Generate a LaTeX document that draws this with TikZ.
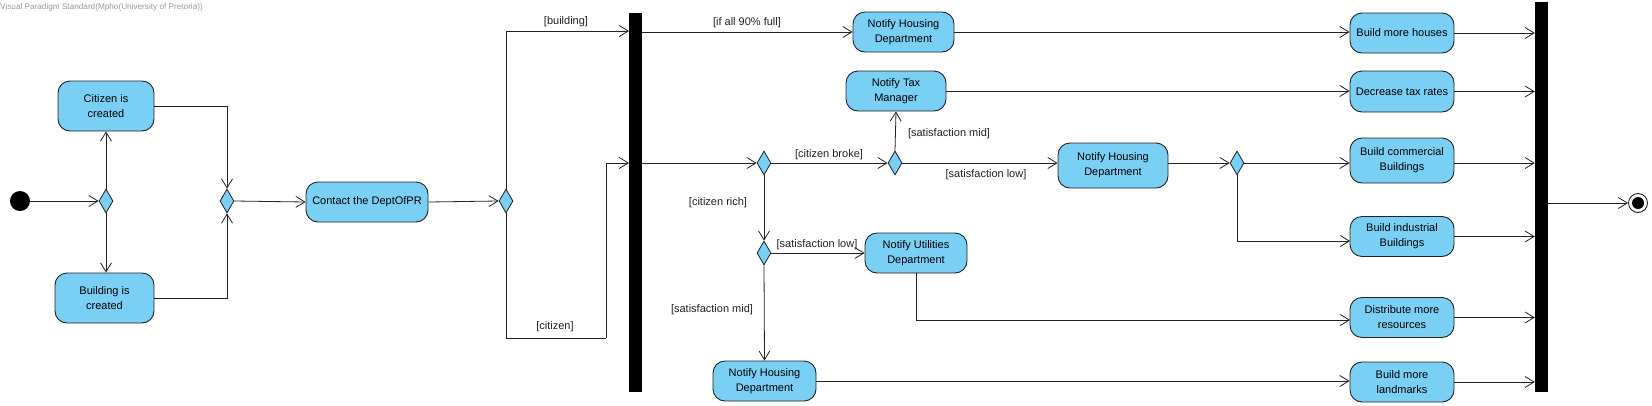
\documentclass[tikz,border=0pt]{standalone}
\usepackage{fontspec}
\setmainfont{Liberation Sans}
\usetikzlibrary{shapes.geometric,arrows.meta}
\definecolor{actblue}{HTML}{7ACFF5}
\definecolor{bord}{HTML}{222222}
\definecolor{titlegray}{HTML}{9A9A9A}
\tikzset{
  x=1pt,y=-1pt,
  act/.style={rectangle, rounded corners=12pt, draw=bord, fill=actblue, line width=0.9pt,
    align=center, inner sep=0pt, font=\fontsize{11}{15}\selectfont},
  dec/.style={diamond, draw=bord, fill=actblue, minimum width=14pt, minimum height=24pt,
    inner sep=0pt, line width=0.8pt},
  barnode/.style={rectangle, fill=black, draw=none, inner sep=0pt},
  arr/.style={-{Straight Barb[length=9pt,width=11pt,line width=0.8pt]}, line width=0.8pt, draw=bord},
  plain/.style={line width=0.8pt, draw=bord},
  guard/.style={inner sep=0pt, font=\fontsize{11}{13}\selectfont, text=bord}
}
\begin{document}
\begin{tikzpicture}
\useasboundingbox (0,0) rectangle (1652,405);
\fill[white] (0,0) rectangle (1652,405);
\node[anchor=west, inner sep=0pt, text=titlegray, font=\fontsize{8.2}{10}\selectfont] (title) at (0,7) {Visual Paradigm Standard(Mpho(University of Pretoria))};

% initial / final
\node[circle, fill=black, minimum size=20pt, inner sep=0pt] (init) at (20,201) {};
\node[circle, draw=bord, fill=white, line width=0.9pt, minimum size=19pt, inner sep=0pt] (final) at (1638,203) {};
\fill[black] (final.center) circle (6pt);

% decisions
\node[dec] (d1) at (106,201) {};
\node[dec] (merge) at (227,201) {};
\node[dec] (d3) at (506,201) {};
\node[dec] (d4) at (764,163) {};
\node[dec] (d5) at (764,253) {};
\node[dec] (d6) at (895,163) {};
\node[dec] (d7) at (1237,163) {};

% bars
\node[barnode, minimum width=13pt, minimum height=379pt] (bar1) at (635.5,202.5) {};
\node[barnode, minimum width=13pt, minimum height=390pt] (bar2) at (1541.5,197) {};

% actions
\node[act, minimum width=96pt, minimum height=50pt] (citizen) at (106,106) {Citizen is\\created};
\node[act, minimum width=99pt, minimum height=50pt] (building) at (104.5,298) {Building is\\created};
\node[act, minimum width=122pt, minimum height=40pt] (contact) at (367,202) {Contact the DeptOfPR};
\node[act, minimum width=101pt, minimum height=40pt] (nh1) at (903.5,32) {Notify Housing\\Department};
\node[act, minimum width=100pt, minimum height=40pt] (tax) at (896,91) {Notify Tax\\Manager};
\node[act, minimum width=110pt, minimum height=45pt] (nh2) at (1113,165.5) {Notify Housing\\Department};
\node[act, minimum width=102pt, minimum height=40pt] (utl) at (916,253) {Notify Utilities\\Department};
\node[act, minimum width=103pt, minimum height=40pt] (nh3) at (764.5,381) {Notify Housing\\Department};
\node[act, minimum width=104pt, minimum height=40pt] (bmh) at (1402,33) {Build more houses};
\node[act, minimum width=104pt, minimum height=41pt] (dtr) at (1402,91.5) {Decrease tax rates};
\node[act, minimum width=104pt, minimum height=45pt] (bcb) at (1402,160.5) {Build commercial\\Buildings};
\node[act, minimum width=104pt, minimum height=40pt] (bib) at (1402,236.5) {Build industrial\\Buildings};
\node[act, minimum width=104pt, minimum height=40pt] (dmr) at (1402,317.5) {Distribute more\\resources};
\node[act, minimum width=104pt, minimum height=40pt] (bml) at (1402,382) {Build more\\landmarks};

% helper coordinates
\coordinate (b1in1) at (629,31);
\coordinate (b1in2) at (629,163);
\coordinate (cturn) at (606,338);
\coordinate (bibin) at (1350,241);
\coordinate (dmrin) at (1350,320);
\coordinate (nh2out) at (1168,163);

% connectors
\draw[arr] (init) -- (d1.west);
\draw[arr] (d1.north) -- (d1.north |- citizen.south);
\draw[arr] (d1.south) -- (d1.south |- building.north);
\draw[arr] (citizen.east) -| (merge.north);
\draw[arr] (building.east) -| (merge.south);
\draw[arr] (merge.east) -- (contact.west);
\draw[arr] (contact.east) -- (d3.west);
\draw[arr] (d3.north) |- (b1in1);
\draw[plain] (d3.south) |- (cturn);
\draw[arr] (cturn) |- (b1in2);
\draw[arr] (bar1.east |- nh1.west) -- (nh1.west);
\draw[arr] (bar1.east |- d4.west) -- (d4.west);
\draw[arr] (d4.east) -- (d6.west);
\draw[arr] (d6.north) -- (tax.south);
\draw[arr] (d6.east) -- (d6.east -| nh2.west);
\draw[arr] (nh2out) -- (d7.west);
\draw[arr] (d7.east) -- (d7.east -| bcb.west);
\draw[arr] (d7.south) |- (bibin);
\draw[arr] (d4.south) -- (d5.north);
\draw[arr] (d5.east) -- (utl.west);
\draw[arr] (d5.south) -- (nh3.north);
\draw[arr] (utl.south) |- (dmrin);
\draw[arr] (nh3.east) -- (nh3.east -| bml.west);
\draw[arr] (nh1.east) -- (nh1.east -| bmh.west);
\draw[arr] (tax.east) -- (tax.east -| dtr.west);
\draw[arr] (bmh.east) -- (bmh.east -| bar2.west);
\draw[arr] (dtr.east) -- (dtr.east -| bar2.west);
\draw[arr] (bcb.east |- d7) -- (d7 -| bar2.west);
\draw[arr] (bib.east) -- (bib.east -| bar2.west);
\draw[arr] (dmr.east) -- (dmr.east -| bar2.west);
\draw[arr] (bml.east) -- (bml.east -| bar2.west);
\draw[arr] (bar2.east |- final) -- (final.west);

% guards
\node[guard] (g1) at (566,22) {[building]};
\node[guard] (g2) at (555,327) {[citizen]};
\node[guard] (g3) at (747,23) {[if all 90\% full]};
\node[guard] (g4) at (829,155) {[citizen broke]};
\node[guard] (g5) at (949,134) {[satisfaction mid]};
\node[guard] (g6) at (986,175) {[satisfaction low]};
\node[guard] (g7) at (718,203) {[citizen rich]};
\node[guard] (g8) at (817,245) {[satisfaction low]};
\node[guard] (g9) at (712,310) {[satisfaction mid]};
\end{tikzpicture}
\end{document}
